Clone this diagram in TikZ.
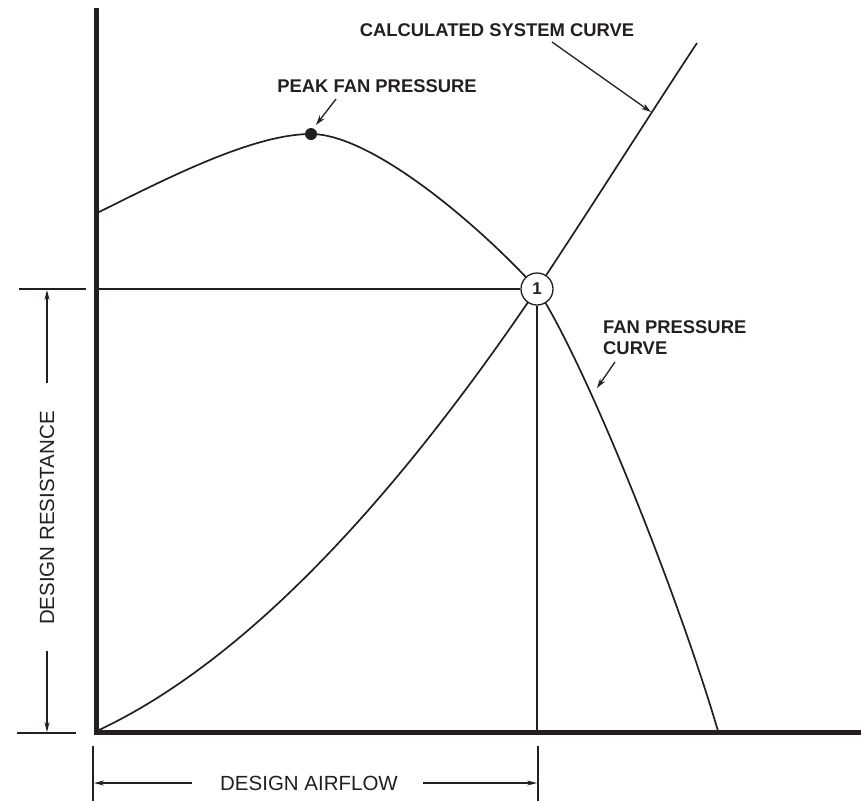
\documentclass[tikz,border=0pt]{standalone}
\usepackage{fontspec}
\setmainfont{Liberation Sans}
\usetikzlibrary{arrows.meta}
\definecolor{ink}{HTML}{231F20}
\tikzset{
  axisline/.style={line width=5pt, draw=ink},
  thinline/.style={line width=1.3pt, draw=ink},
  curveline/.style={line width=1.7pt, draw=ink},
  pointer/.style={line width=1.3pt, draw=ink, -{Stealth[length=10pt,width=6pt]}},
  dimarrow/.style={line width=1.3pt, draw=ink, -{Stealth[length=10pt,width=5pt]}},
  boldlabel/.style={inner sep=0pt, text=ink, font=\fontsize{18.4}{21}\selectfont\bfseries},
  dimlabel/.style={inner sep=0pt, text=ink, font=\fontsize{20.5}{24}\selectfont},
  opcircle/.style={circle, draw=ink, line width=1.3pt, fill=white, minimum size=32pt, inner sep=0pt, font=\fontsize{17}{20}\selectfont\bfseries, text=ink}
}
\begin{document}
\begin{tikzpicture}[x=1pt,y=-1pt]
\useasboundingbox (0,0) rectangle (861,801);
% named coordinates
\coordinate (axtop) at (96,8);
\coordinate (origin) at (96,732);
\coordinate (axright) at (861,732);
\coordinate (ylev) at (96,289);
\coordinate (xlev) at (538,732);
\coordinate (fanstart) at (97,213);
\coordinate (peakpt) at (311,134);
\coordinate (oppt) at (537,289);
\coordinate (fanend) at (718,731);
\coordinate (sysstart) at (99,730);
\coordinate (sysend) at (697,43);
% fan pressure curve
\draw[curveline] (fanstart) .. controls (160,182) and (251,134) .. (peakpt)
  .. controls (371,134) and (477,223) .. (oppt)
  .. controls (587,366) and (678,595) .. (fanend);
% system curve
\draw[curveline] (sysstart) .. controls (236.1,665.3) and (382.1,518.3) .. (oppt)
  .. controls (587,214) and (652,111) .. (sysend);
% operating point
\node[opcircle] (op) at (oppt) {1};
\draw[thinline] (ylev) -- (op.west);
\draw[thinline] (op.south) -- (op.south |- xlev);
% axes
\draw[axisline] (axtop) -- (96,734.5);
\draw[axisline] (93.5,732) -- (axright);
% peak dot
\node[circle, fill=ink, minimum size=12pt, inner sep=0pt] (peak) at (peakpt) {};
% labels
\node[boldlabel] (lpeak) at (377,86) {PEAK FAN PRESSURE};
\node[boldlabel] (lsys) at (497,30) {CALCULATED SYSTEM CURVE};
\node[boldlabel, align=left, anchor=west] (lfan) at (603,337.5) {FAN PRESSURE\\CURVE};
\coordinate (peaktip) at (316,125);
\coordinate (systip) at (651,112);
\coordinate (fantip) at (597,388);
\draw[pointer] (336,99) -- (peaktip);
\draw[pointer] (552,42) -- (systip);
\draw[pointer] (615,362) -- (fantip);
% dimension: design resistance
\coordinate (rt1) at (19,289);
\coordinate (rt2) at (86,289);
\coordinate (rb1) at (17,733);
\coordinate (rb2) at (76,733);
\draw[thinline] (rt1) -- (rt2);
\draw[thinline] (rb1) -- (rb2);
\node[dimlabel, rotate=90] (lres) at (47,518) {DESIGN RESISTANCE};
\draw[dimarrow] (47,383) -- (47,290);
\draw[dimarrow] (47,651) -- (47,732);
% dimension: design airflow
\coordinate (at1) at (93,746);
\coordinate (at2) at (93,801);
\coordinate (at3) at (538,746);
\coordinate (at4) at (538,801);
\draw[thinline] (at1) -- (at2);
\draw[thinline] (at3) -- (at4);
\node[dimlabel] (lair) at (309,783) {DESIGN AIRFLOW};
\draw[dimarrow] (192,783) -- (94,783);
\draw[dimarrow] (423,783) -- (537,783);
\end{tikzpicture}
\end{document}
